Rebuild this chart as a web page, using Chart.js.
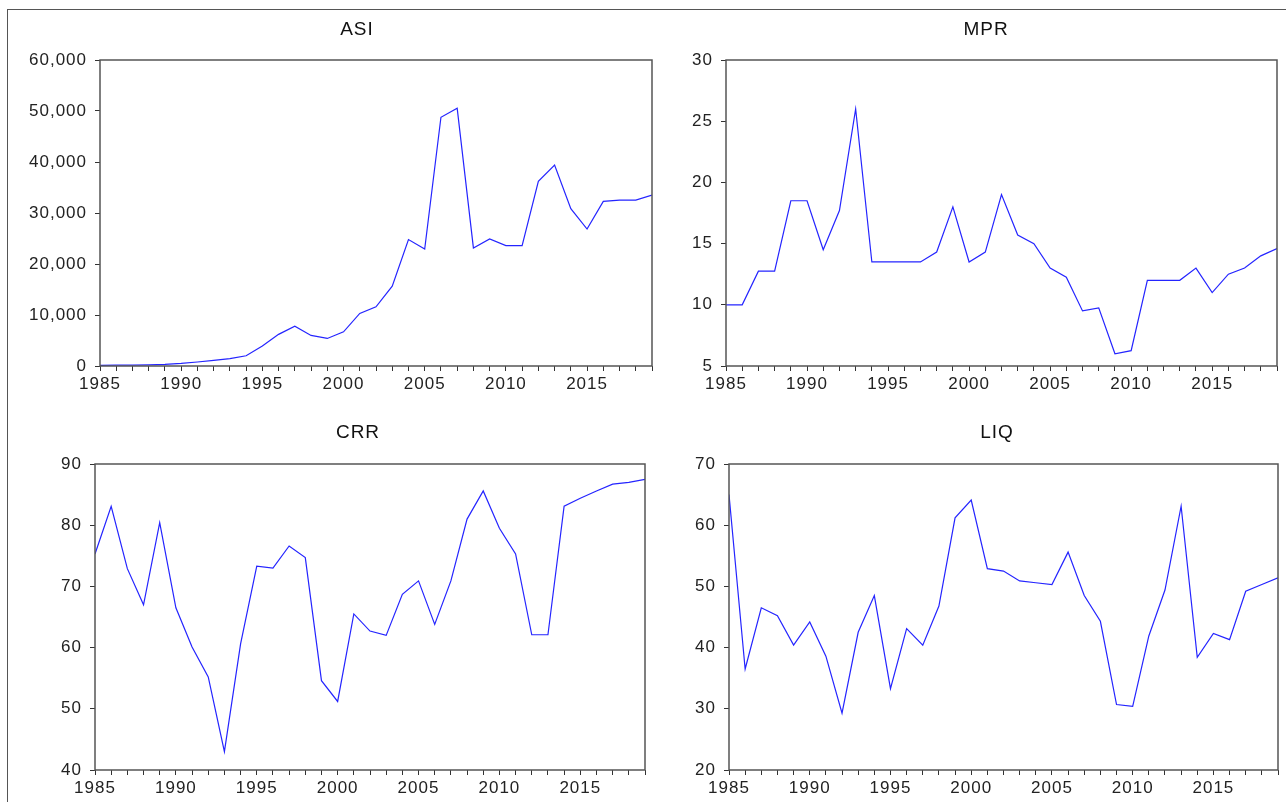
<!DOCTYPE html>
<html>
<head>
<meta charset="utf-8">
<script src="https://cdn.jsdelivr.net/npm/chart.js@4.4.1/dist/chart.umd.min.js"></script>
<style>
  body { margin: 0; background: #fff; width: 1286px; height: 802px; overflow: hidden; position: relative; }
  .frame { position: absolute; left: 7px; top: 9px; width: 1300px; height: 820px; border: 1px solid #555; }
  .panel { position: absolute; }
  .title { position: absolute; font-family: "Liberation Sans", Arial, sans-serif; font-size: 19px; color: #111;
           letter-spacing: 1px; transform: translateX(-50%); white-space: nowrap; }
</style>
</head>
<body>
<div class="frame"></div>

<script>
var years = [1985, 1986, 1987, 1988, 1989, 1990, 1991, 1992, 1993, 1994,
             1995, 1996, 1997, 1998, 1999, 2000, 2001, 2002, 2003, 2004,
             2005, 2006, 2007, 2008, 2009, 2010, 2011, 2012, 2013, 2014,
             2015, 2016, 2017, 2018, 2019];

var asi = [130, 160, 190, 230, 325, 510, 780, 1100, 1430, 2000,
           3900, 6200, 7800, 6000, 5400, 6700, 10300, 11600, 15650, 24800,
           22950, 48770, 50530, 23150, 24900, 23600, 23600, 36200, 39400, 30840,
           26860, 32270, 32530, 32530, 33500];

var mpr = [10, 10, 12.75, 12.75, 18.5, 18.5, 14.5, 17.7, 26, 13.5,
           13.5, 13.5, 13.5, 14.31, 18, 13.5, 14.31, 19, 15.7, 15,
           13, 12.25, 9.5, 9.75, 6, 6.25, 12, 12, 12, 13,
           11, 12.5, 13, 14, 14.6];

var crr = [75.3, 83.1, 72.9, 67.0, 80.4, 66.5, 60.1, 55.2, 43.0, 60.6,
           73.3, 73.0, 76.6, 74.7, 54.6, 51.2, 65.5, 62.7, 62.0, 68.7,
           70.9, 63.8, 70.9, 81.0, 85.6, 79.5, 75.3, 62.1, 62.1, 83.1,
           84.4, 85.6, 86.7, 87.0, 87.5];

var liq = [65.0, 36.5, 46.5, 45.2, 40.4, 44.2, 38.6, 29.3, 42.5, 48.5,
           33.3, 43.1, 40.4, 46.8, 61.2, 64.1, 52.9, 52.5, 50.9, 50.6,
           50.3, 55.6, 48.5, 44.3, 30.7, 30.4, 41.9, 49.4, 63.1, 38.4,
           42.3, 41.3, 49.2, 50.3, 51.4];

// plot area boxes: left, right, top, bottom
var panels = [
    { name: 'ASI', values: asi, min: 0,  max: 60000, step: 10000, box: [100, 652, 60, 366], titleX: 357, titleY: 18 },
    { name: 'MPR', values: mpr, min: 5,  max: 30,    step: 5,     box: [726, 1277, 60, 366], titleX: 986, titleY: 18 },
    { name: 'CRR', values: crr, min: 40, max: 90,    step: 10,    box: [95, 645, 464, 770],  titleX: 358, titleY: 421 },
    { name: 'LIQ', values: liq, min: 20, max: 70,    step: 10,    box: [729, 1278, 464, 770], titleX: 997, titleY: 421 }
];

var axisW = 80, axisH = 32, padTop = 50, padRight = 6;
var tickFont = { family: '"Liberation Sans", Arial, sans-serif', size: 17 };

// box round the plot area, and a bit of letter spacing for the tick labels
var framePlugin = {
    id: 'plotFrame',
    beforeDraw: function(chart) {
        chart.ctx.letterSpacing = '1px';
    },
    afterDraw: function(chart) {
        var a = chart.chartArea, c = chart.ctx;
        c.save();
        c.strokeStyle = '#555';
        c.lineWidth = 1.5;
        c.strokeRect(a.left, a.top, a.right - a.left, a.bottom - a.top);
        c.restore();
    }
};

panels.forEach(function(p) {
    var L = p.box[0], R = p.box[1], T = p.box[2], B = p.box[3];
    var w = R - L + axisW + padRight;
    var h = B - T + padTop + axisH;

    var div = document.createElement('div');
    div.className = 'panel';
    div.style.left = (L - axisW) + 'px';
    div.style.top = (T - padTop) + 'px';
    div.style.width = w + 'px';
    div.style.height = h + 'px';
    var cv = document.createElement('canvas');
    cv.width = w;
    cv.height = h;
    div.appendChild(cv);
    document.body.appendChild(div);

    var t = document.createElement('div');
    t.className = 'title';
    t.style.left = p.titleX + 'px';
    t.style.top = p.titleY + 'px';
    t.textContent = p.name;
    document.body.appendChild(t);

    var points = years.map(function(y, i) { return { x: y, y: p.values[i] }; });

    new Chart(cv.getContext('2d'), {
        type: 'line',
        data: {
            datasets: [{
                label: p.name,
                data: points,
                borderColor: '#2424ff',
                borderWidth: 1.2,
                pointRadius: 0,
                tension: 0,
                fill: false
            }]
        },
        options: {
            responsive: false,
            animation: false,
            layout: { padding: { top: padTop, right: padRight, left: 0, bottom: 0 } },
            plugins: { legend: { display: false }, tooltip: { enabled: false } },
            scales: {
                x: {
                    type: 'linear',
                    min: 1985,
                    max: 2019,
                    afterFit: function(s) { s.height = axisH; },
                    border: { display: false },
                    grid: { drawOnChartArea: false, drawTicks: true, tickLength: 5, color: '#333' },
                    ticks: {
                        stepSize: 1,
                        autoSkip: false,
                        maxRotation: 0,
                        padding: 3,
                        color: '#222',
                        font: tickFont,
                        callback: function(v) { return v % 5 === 0 ? String(v) : ''; }
                    }
                },
                y: {
                    min: p.min,
                    max: p.max,
                    afterFit: function(s) { s.width = axisW; },
                    border: { display: false },
                    grid: { drawOnChartArea: false, drawTicks: true, tickLength: 5, color: '#333' },
                    ticks: {
                        stepSize: p.step,
                        padding: 8,
                        color: '#222',
                        font: tickFont,
                        callback: function(v) { return v.toLocaleString('en-US'); }
                    }
                }
            }
        },
        plugins: [framePlugin]
    });
});
</script>
</body>
</html>
